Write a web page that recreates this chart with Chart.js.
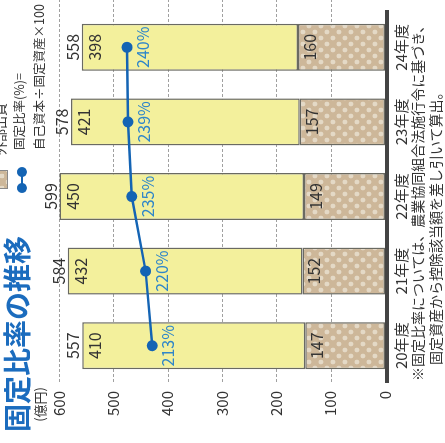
<!DOCTYPE html>
<html><head><meta charset="utf-8">
<script src="https://cdn.jsdelivr.net/npm/chart.js@4.4.0/dist/chart.umd.min.js"></script>
<style>
html,body{margin:0;padding:0;background:#fff;overflow:hidden;width:445px;height:443px;}
#page{position:absolute;left:0;top:0;width:443px;height:445px;transform-origin:0 0;transform:translate(0,443px) rotate(-90deg);font-family:"Noto Sans CJK JP","Noto Sans",sans-serif;color:#333;}
#page canvas{position:absolute;left:0;top:0;}
.t{position:absolute;white-space:nowrap;}
#title{left:11px;top:2px;font-size:28px;line-height:28px;font-weight:bold;color:#1b6cbe;}
#unit{left:0;width:56px;text-align:right;top:31px;font-size:13px;line-height:18px;}
#lgSq{position:absolute;left:254px;top:-11px;width:17px;height:17px;border:1px solid #888;background-color:#cdb799;
 background-image:radial-gradient(circle,#e4d9c6 2.3px,transparent 2.6px),radial-gradient(circle,#e4d9c6 2.3px,transparent 2.6px);
 background-size:12px 12px;background-position:0 0,6px 6px;}
#lg1{left:288px;top:-9px;font-size:13px;line-height:18px;}
.lgLine{position:absolute;left:255px;top:20.5px;width:16px;height:2.5px;background:#1464b4;}
.lgDot{position:absolute;top:16.5px;width:10px;height:10px;border-radius:50%;background:#1464b4;}
#lg2{left:293px;top:10px;font-size:12.5px;line-height:18px;}
#lg3{left:293px;top:30px;font-size:12.5px;line-height:18px;}
#fn1{left:62px;top:408px;font-size:14px;line-height:18px;}
#fn2{left:78px;top:426px;font-size:14px;line-height:18px;}
</style></head><body>
<div id="page">
<canvas id="c" width="443" height="445"></canvas>
<div class="t" id="title">固定比率の推移</div>
<div class="t" id="unit">(億円)</div>
<div id="lgSq"></div>
<div class="t" id="lg1">外部出資</div>
<div class="lgLine"></div>
<div class="lgDot" style="left:250px"></div>
<div class="lgDot" style="left:266px"></div>
<div class="t" id="lg2">固定比率(%)=</div>
<div class="t" id="lg3">自己資本÷固定資産×100</div>
<div class="t" id="fn1">※固定比率については、農業協同組合法施行令に基づき、</div>
<div class="t" id="fn2">固定資産から控除該当額を差し引いて算出。</div>
</div>
<script>
const categories = ['20年度','21年度','22年度','23年度','24年度'];
const externalInvestment = [147, 152, 149, 157, 160];
const otherFixedAssets = [410, 432, 450, 421, 398];
const totals = [557, 584, 599, 578, 558];
const fixedRatio = [213, 220, 235, 239, 240];
const valueTicks = [0, 100, 200, 300, 400, 500, 600];

const FONT = '"Noto Sans CJK JP","Noto Sans",sans-serif';

function makePattern(){
  const c = document.createElement('canvas');
  c.width = 12; c.height = 12;
  const g = c.getContext('2d');
  g.fillStyle = '#cdb799'; g.fillRect(0,0,12,12);
  g.fillStyle = '#e4d9c6';
  [[3,3],[9,9]].forEach(([x,y])=>{ g.beginPath(); g.arc(x,y,2.4,0,Math.PI*2); g.fill(); });
  return document.getElementById('c').getContext('2d').createPattern(c,'repeat');
}

const custom = {
  id:'custom',
  beforeDatasetsDraw(chart){
    const ctx = chart.ctx, y = chart.scales.y, ca = chart.chartArea;
    ctx.save();
    ctx.strokeStyle = '#a0a0a0'; ctx.lineWidth = 1; ctx.setLineDash([3,2]);
    valueTicks.forEach(v => {
      if (v === 0) return;
      const py = Math.round(y.getPixelForValue(v)) + 0.5;
      ctx.beginPath(); ctx.moveTo(ca.left + 1, py); ctx.lineTo(chart.width, py); ctx.stroke();
    });
    ctx.restore();
  },
  afterDatasetsDraw(chart){
    const ctx = chart.ctx, ca = chart.chartArea;
    ctx.save();
    ctx.fillStyle = '#444';
    ctx.fillRect(ca.left, ca.bottom, ca.right - ca.left, 4);
    ctx.font = '16px ' + FONT;
    ctx.textAlign = 'center'; ctx.textBaseline = 'middle';
    ctx.fillStyle = '#333';
    const m0 = chart.getDatasetMeta(0).data, m1 = chart.getDatasetMeta(1).data, m2 = chart.getDatasetMeta(2).data;
    m0.forEach((b,i)=>{ ctx.fillText(String(externalInvestment[i]), b.x, b.y + 12); });
    m1.forEach((b,i)=>{ ctx.fillText(String(otherFixedAssets[i]), b.x, b.y + 13); });
    m1.forEach((b,i)=>{ ctx.fillText(String(totals[i]), b.x, b.y - 9); });
    ctx.fillStyle = '#2f86c9';
    m2.forEach((p,i)=>{ ctx.fillText(fixedRatio[i] + '%', p.x, p.y + 16); });
    ctx.restore();
  }
};

const pattern = makePattern();

new Chart(document.getElementById('c'), {
  data: {
    labels: categories,
    datasets: [
      { type:'bar', label:'外部出資', data: externalInvestment, backgroundColor: pattern,
        borderColor:'#6a6a62', borderWidth:1.5, borderSkipped:false, order:1,
        barPercentage:0.63, categoryPercentage:1 },
      { type:'bar', label:'固定資産', data: otherFixedAssets, backgroundColor:'#f3f09c',
        borderColor:'#6a6a62', borderWidth:1.5, borderSkipped:false, order:2,
        barPercentage:0.63, categoryPercentage:1 },
      { type:'line', label:'固定比率', data: fixedRatio, yAxisID:'y2',
        borderColor:'#1464b4', borderWidth:2.5, pointRadius:5.5, pointHoverRadius:5.5,
        pointBackgroundColor:'#1464b4', pointBorderWidth:0, order:0, tension:0 }
    ]
  },
  options: {
    responsive:false, animation:false,
    layout:{ padding:{ top:59, right:10, bottom:0, left:0 } },
    plugins:{ legend:{display:false}, tooltip:{enabled:false}, title:{display:false} },
    scales:{
      x:{ stacked:true, grid:{display:false, drawTicks:false}, border:{display:false},
          ticks:{ font:{size:15, family:FONT}, color:'#333', padding:7, maxRotation:0 },
          afterFit(s){ s.height = 60; } },
      y:{ stacked:true, min:0, max:600, grid:{display:false, drawTicks:false}, border:{display:false},
          ticks:{ stepSize:100, font:{size:15, family:FONT}, color:'#333', padding:8 },
          afterFit(s){ s.width = 60; } },
      y2:{ display:false, min:-37, max:313 }
    }
  },
  plugins:[custom]
});
</script>
</body></html>
